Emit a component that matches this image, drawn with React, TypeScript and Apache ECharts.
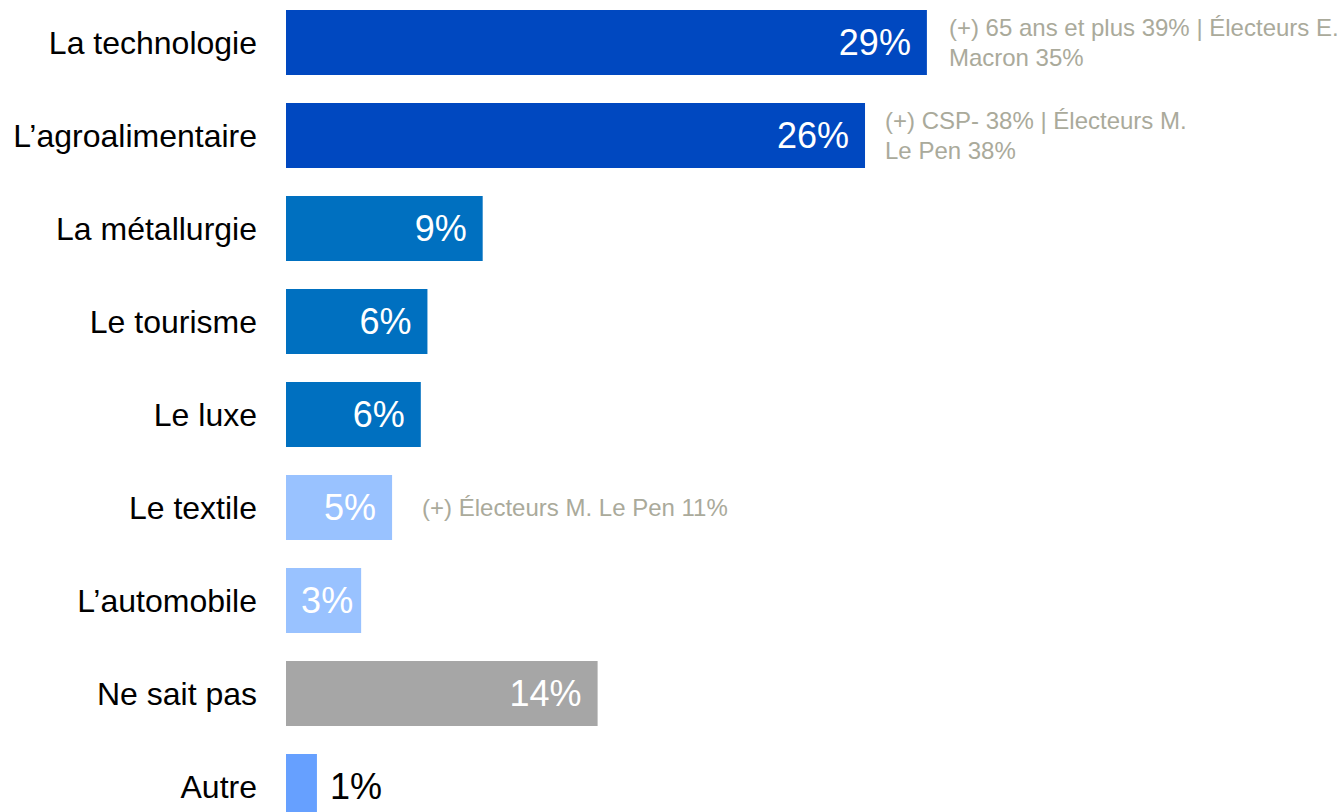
import React, { useEffect, useRef } from "react";
import * as echarts from "echarts";

const categories = [
  "La technologie",
  "L’agroalimentaire",
  "La métallurgie",
  "Le tourisme",
  "Le luxe",
  "Le textile",
  "L’automobile",
  "Ne sait pas",
  "Autre",
];

const values = [29, 26.2, 8.9, 6.4, 6.1, 4.8, 3.4, 14.1, 1.4];

const annotations = [
  "(+) 65 ans et plus 39% | Électeurs E.\nMacron 35%",
  "(+) CSP- 38% | Électeurs M.\nLe Pen 38%",
  "",
  "",
  "",
  "(+) Électeurs M. Le Pen 11%",
  "",
  "",
  "",
];

const barColors = [
  "#0048C0",
  "#0048C0",
  "#0070C0",
  "#0070C0",
  "#0070C0",
  "#99C2FF",
  "#99C2FF",
  "#A6A6A6",
  "#66A0FF",
];

const FONT = "'Liberation Sans', Arial, Helvetica, sans-serif";

export default function App() {
  const ref = useRef<HTMLDivElement>(null);

  useEffect(() => {
    if (!ref.current) return;
    const chart = echarts.init(ref.current, null, { renderer: "svg" });

    const mainData = values.map((v, i) => {
      const item: any = { value: v, itemStyle: { color: barColors[i] } };
      if (i === values.length - 1) {
        item.label = { position: "right", color: "#000000", distance: 13 };
      } else if (i === 6) {
        item.label = { distance: 8 };
      }
      return item;
    });

    const annData = values.map((v, i) => {
      const item: any = { value: v };
      if (i === 5) item.label = { distance: 30 };
      if (i === 1) item.label = { distance: 20 };
      return item;
    });

    chart.setOption({
      animation: false,
      grid: { left: 286, right: 170, top: 0, bottom: 0, containLabel: false },
      xAxis: {
        type: "value",
        min: 0,
        max: 40,
        show: false,
      },
      yAxis: {
        type: "category",
        data: categories,
        inverse: true,
        axisLine: { show: false },
        axisTick: { show: false },
        splitLine: { show: false },
        axisLabel: {
          margin: 29,
          color: "#000000",
          fontSize: 32,
          fontFamily: FONT,
        },
      },
      series: [
        {
          type: "bar",
          data: mainData,
          barWidth: 65,
          label: {
            show: true,
            position: "insideRight",
            distance: 16,
            color: "#FFFFFF",
            fontSize: 36,
            fontFamily: FONT,
            formatter: (p: any) => Math.round(p.value) + "%",
          },
        },
        {
          type: "bar",
          data: annData,
          barWidth: 65,
          barGap: "-100%",
          itemStyle: { color: "rgba(0,0,0,0)" },
          silent: true,
          z: 3,
          label: {
            show: true,
            position: "right",
            distance: 22,
            color: "#AAAA9B",
            fontSize: 24,
            lineHeight: 30,
            fontFamily: FONT,
            formatter: (p: any) => annotations[p.dataIndex],
          },
        },
      ],
    });

    return () => chart.dispose();
  }, []);

  return (
    <div
      style={{
        position: "fixed",
        left: 0,
        top: 0,
        width: 1340,
        height: 812,
        overflow: "hidden",
        background: "#ffffff",
      }}
    >
      <div
        ref={ref}
        style={{ position: "absolute", left: 0, top: -4, width: 1340, height: 837 }}
      />
    </div>
  );
}
